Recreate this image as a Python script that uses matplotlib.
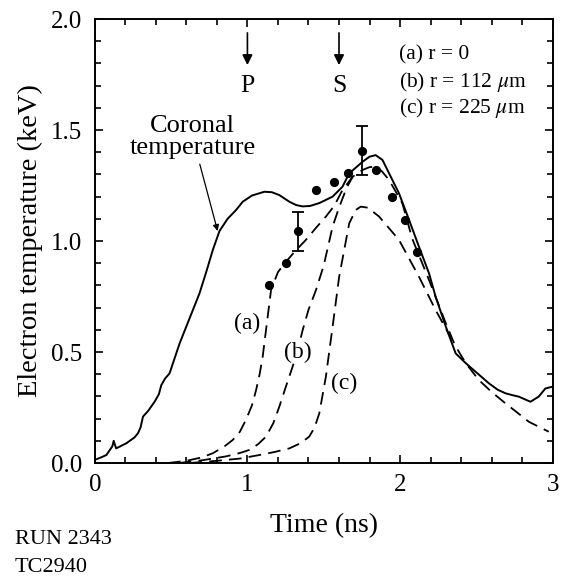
import matplotlib
matplotlib.use('Agg')
import matplotlib.pyplot as plt
from matplotlib.ticker import MultipleLocator, FormatStrFormatter

# ------------------------------- DATA -------------------------------
# Coronal temperature (solid)
coronalTime = [0.0, 0.04, 0.076, 0.10, 0.115, 0.124, 0.14, 0.207, 0.26, 0.283, 0.30,
               0.316, 0.35, 0.392, 0.42, 0.436, 0.46, 0.49, 0.556, 0.62, 0.686, 0.73,
               0.773, 0.817, 0.87, 0.926, 0.969, 1.03, 1.111, 1.16, 1.209, 1.275, 1.32,
               1.362, 1.41, 1.471, 1.558, 1.623, 1.667, 1.754, 1.80, 1.84, 1.885, 1.928,
               1.993, 2.059, 2.124, 2.19, 2.233, 2.3, 2.364, 2.43, 2.495, 2.582, 2.64,
               2.691, 2.74, 2.778, 2.854, 2.908, 2.952, 3.0]
coronalTemp = [0.014, 0.025, 0.036, 0.06, 0.075, 0.10, 0.066, 0.089, 0.115, 0.134, 0.16,
               0.209, 0.235, 0.276, 0.31, 0.351, 0.38, 0.404, 0.539, 0.65, 0.764, 0.86,
               0.959, 1.045, 1.10, 1.14, 1.177, 1.205, 1.222, 1.22, 1.207, 1.177, 1.162,
               1.156, 1.158, 1.171, 1.20, 1.245, 1.305, 1.357, 1.38, 1.387, 1.365, 1.305,
               1.215, 1.095, 0.974, 0.854, 0.749, 0.614, 0.494, 0.45, 0.411, 0.359, 0.33,
               0.314, 0.305, 0.299, 0.276, 0.299, 0.336, 0.344]

# Simulated curves (dashed); (b) and (c) join (a) where they meet it
timeA = [0.48, 0.6, 0.7, 0.773, 0.85, 0.904, 0.95, 0.99, 1.03, 1.057, 1.08, 1.1, 1.122,
         1.155, 1.2, 1.253, 1.32, 1.383, 1.45, 1.514, 1.57, 1.623, 1.69, 1.754, 1.80,
         1.84, 1.88, 1.928, 2.015, 2.08, 2.19, 2.3, 2.36, 2.43, 2.516, 2.6, 2.69, 2.77,
         2.843, 2.974]
tempA = [0.0, 0.01, 0.025, 0.044, 0.075, 0.104, 0.14, 0.194, 0.26, 0.329, 0.40, 0.479, 0.6,
         0.78, 0.86, 0.907, 0.96, 1.005, 1.06, 1.11, 1.16, 1.23, 1.29, 1.32, 1.333,
         1.335, 1.315, 1.275, 1.17, 1.01, 0.824, 0.629, 0.53, 0.45, 0.374, 0.32, 0.269,
         0.226, 0.186, 0.141]

timeB = [0.55, 0.7, 0.86, 0.95, 1.013, 1.07, 1.122, 1.17, 1.209, 1.25, 1.296, 1.33, 1.362,
         1.40, 1.449, 1.50, 1.558, 1.60, 1.65, 1.69]
tempB = [0.0, 0.012, 0.03, 0.045, 0.059, 0.085, 0.119, 0.18, 0.254, 0.34, 0.434, 0.51,
         0.599, 0.69, 0.779, 0.89, 1.065, 1.15, 1.24, 1.29]

timeC = [0.62, 0.8, 0.95, 1.078, 1.18, 1.275, 1.35, 1.405, 1.44, 1.471, 1.514, 1.558,
         1.601, 1.667, 1.71, 1.743, 1.79, 1.863, 1.993, 2.124, 2.233, 2.36]
tempC = [0.0, 0.01, 0.02, 0.036, 0.05, 0.066, 0.09, 0.119, 0.16, 0.224, 0.389, 0.614,
         0.839, 1.08, 1.14, 1.155, 1.15, 1.11, 1.005, 0.839, 0.689, 0.53]

# Measured points
measTime = [1.144, 1.253, 1.329, 1.449, 1.569, 1.656, 1.749, 1.84, 1.95, 2.033, 2.113]
measTemp = [0.80, 0.90, 1.046, 1.23, 1.267, 1.308, 1.407, 1.32, 1.197, 1.095, 0.952]
errTime = [1.329, 1.749]
errTemp = [1.046, 1.407]
errLow = [0.09, 0.11]
errHigh = [0.083, 0.113]

legendLines = ['(a) r = 0', r'(b) r = 112 $\mu$m', r'(c) r = 225 $\mu$m']
legendY = [1.838, 1.716, 1.60]

# ------------------------------- PLOT -------------------------------
plt.rcParams['font.family'] = ['Liberation Serif', 'DejaVu Serif']
plt.rcParams['mathtext.fontset'] = 'stix'

fig = plt.figure(figsize=(5.64, 5.79), dpi=100)
ax = fig.add_axes([0.168, 0.2003, 0.812, 0.7668])

ax.plot(coronalTime, coronalTemp, c='k', lw=1.4)
for t, T in [(timeA, tempA), (timeB, tempB), (timeC, tempC)]:
    ax.plot(t, T, c='k', lw=1.3, dashes=(7, 4))

ax.plot(measTime, measTemp, 'o', c='k', ms=5.6)
ax.errorbar(errTime, errTemp, yerr=[errLow, errHigh], fmt='none', ecolor='k',
            elinewidth=1.3, capsize=4.5, capthick=1.3)

# P and S markers
for xm, lab in [(1.0, 'P'), (1.6, 'S')]:
    ax.annotate('', xy=(xm, 1.78), xytext=(xm, 1.95),
                arrowprops=dict(arrowstyle='-|>', color='k', lw=1.2, mutation_scale=15))
    ax.text(xm, 1.70, lab, ha='center', va='center', fontsize=18.5)

ax.annotate('Coronal\ntemperature', xy=(0.805, 1.045), xytext=(0.64, 1.47),
            ha='center', va='center', fontsize=19, linespacing=1.0,
            arrowprops=dict(arrowstyle='-|>', color='k', lw=0.9, mutation_scale=9,
                            shrinkA=2, shrinkB=0))

for s, yl in zip(legendLines, legendY):
    ax.text(1.99, yl, s, ha='left', va='center', fontsize=15.5)

box = dict(facecolor='white', edgecolor='none', pad=0.5)
ax.text(1.0, 0.63, '(a)', ha='center', va='center', fontsize=17, bbox=box, zorder=5)
ax.text(1.327, 0.50, '(b)', ha='center', va='center', fontsize=17, bbox=box, zorder=5)
ax.text(1.632, 0.36, '(c)', ha='center', va='center', fontsize=17, bbox=box, zorder=5)

ax.axis([0, 3, 0, 2.0])
ax.xaxis.set_major_locator(MultipleLocator(1))
ax.xaxis.set_minor_locator(MultipleLocator(0.2))
ax.yaxis.set_major_locator(MultipleLocator(0.5))
ax.yaxis.set_minor_locator(MultipleLocator(0.1))
ax.yaxis.set_major_formatter(FormatStrFormatter('%.1f'))
ax.tick_params(which='both', direction='in', top=True, right=True, width=1.2,
               labelsize=18, colors='k')
ax.tick_params(which='major', length=5.5)
ax.tick_params(which='minor', length=4.5)
ax.tick_params(axis='x', pad=8)
ax.tick_params(axis='y', pad=9)
for sp in ax.spines.values():
    sp.set_linewidth(1.4)

ax.set_xlabel('Time (ns)', fontsize=20, labelpad=12)
ax.set_ylabel('Electron temperature (keV)', fontsize=20.5, labelpad=6)

fig.text(15 / 564, 1 - 540 / 579, 'RUN 2343', ha='left', va='center', fontsize=16)
fig.text(15 / 564, 1 - 567 / 579, 'TC2940', ha='left', va='center', fontsize=16)

fig.savefig('out.png', dpi=100)
